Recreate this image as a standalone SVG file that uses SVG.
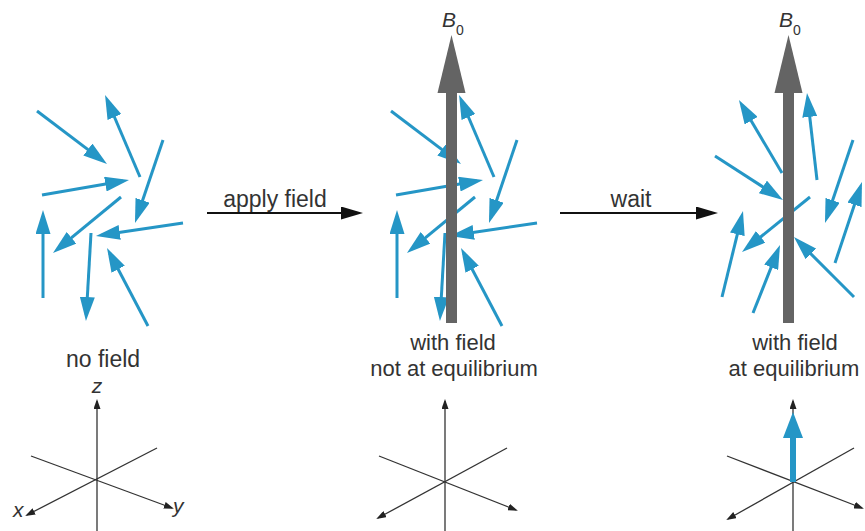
<svg xmlns="http://www.w3.org/2000/svg" width="865" height="531" viewBox="0 0 865 531">
<style>
.spin{stroke:#2596c6;stroke-width:3;fill:none;marker-end:url(#bh)}
.bar{fill:#646464}
.ax{stroke:#333;stroke-width:1.3;fill:none}
.axa{marker-end:url(#ah)}
.lbl{font-family:"Liberation Sans",Arial,sans-serif;font-size:23px;fill:#333;text-anchor:middle}
.lbl2{font-size:22px}
.ital{font-family:"Liberation Sans",Arial,sans-serif;font-style:italic;fill:#333}
.conn{stroke:#111;stroke-width:2;fill:none;marker-end:url(#ch)}
</style>
<defs>
<marker id="bh" viewBox="0 0 24 15" refX="18" refY="7.5" markerWidth="24" markerHeight="15" markerUnits="userSpaceOnUse" orient="auto"><path d="M0,0 L24,7.5 L0,15 z" fill="#2596c6"/></marker>
<marker id="ah" viewBox="0 0 10 7" refX="8" refY="3.5" markerWidth="10" markerHeight="7" markerUnits="userSpaceOnUse" orient="auto"><path d="M0,0 L10,3.5 L0,7 z" fill="#222"/></marker>
<marker id="ch" viewBox="0 0 22 13" refX="18" refY="6.5" markerWidth="22" markerHeight="13" markerUnits="userSpaceOnUse" orient="auto"><path d="M0,0 L22,6.5 L0,13 z" fill="#111"/></marker>
<g id="spins">
<line class="spin" x1="37" y1="111" x2="102.2" y2="160.4"/>
<line class="spin" x1="140" y1="177" x2="107.4" y2="100.5"/>
<line class="spin" x1="163" y1="140" x2="136.9" y2="217.3"/>
<line class="spin" x1="42" y1="195" x2="123.1" y2="181"/>
<line class="spin" x1="121" y1="197" x2="57.6" y2="249.2"/>
<line class="spin" x1="43" y1="298" x2="43" y2="216"/>
<line class="spin" x1="183" y1="223" x2="101.9" y2="235.1"/>
<line class="spin" x1="91" y1="233" x2="86.3" y2="315"/>
<line class="spin" x1="148" y1="326" x2="109.8" y2="253.3"/>
</g>
</defs>

<g id="state-no-field">
<use href="#spins"/>
<text class="lbl" x="103" y="367">no field</text>
<g id="axes-1">
<line class="ax axa" x1="97" y1="531" x2="97" y2="401"/>
<line class="ax axa" x1="31" y1="456" x2="172" y2="508"/>
<line class="ax axa" x1="157" y1="448" x2="27" y2="515"/>
<text class="ital" x="97" y="393" font-size="21" text-anchor="middle">z</text>
<text class="ital" x="13" y="517" font-size="21">x</text>
<text class="ital" x="173" y="513" font-size="21">y</text>
</g>
</g>

<g id="state-with-field">
<use href="#spins" transform="translate(354,0)"/>
<rect class="bar" x="446" y="92" width="11" height="231"/>
<polygon class="bar" points="437.5,93 465.5,93 451.5,35"/>
<text class="ital" x="442" y="27" font-size="21">B<tspan font-size="14" dy="8" font-style="normal">0</tspan></text>
<text class="lbl lbl2" x="453" y="350">with field</text>
<text class="lbl lbl2" x="454" y="376">not at equilibrium</text>
<g id="axes-2">
<line class="ax axa" x1="445" y1="531" x2="445" y2="401"/>
<line class="ax axa" x1="379" y1="456" x2="516" y2="510"/>
<line class="ax axa" x1="507" y1="448" x2="378" y2="518"/>
</g>
</g>

<g id="state-equilibrium">
<line class="spin" x1="782" y1="173" x2="742" y2="105.2"/>
<line class="spin" x1="817" y1="180" x2="807.7" y2="99"/>
<line class="spin" x1="715" y1="156" x2="778" y2="196.7"/>
<line class="spin" x1="853" y1="140" x2="826.9" y2="217.3"/>
<line class="spin" x1="835" y1="263" x2="860.1" y2="187.7"/>
<line class="spin" x1="810" y1="197" x2="746.7" y2="248.2"/>
<line class="spin" x1="722" y1="297" x2="741.6" y2="216.8"/>
<line class="spin" x1="753" y1="313" x2="777.8" y2="250.6"/>
<line class="spin" x1="854" y1="297" x2="798.2" y2="241.2"/>
<rect class="bar" x="783" y="92" width="11" height="231"/>
<polygon class="bar" points="774.5,93 802.5,93 788.5,35"/>
<text class="ital" x="779" y="27" font-size="21">B<tspan font-size="14" dy="8" font-style="normal">0</tspan></text>
<text class="lbl lbl2" x="795" y="350">with field</text>
<text class="lbl lbl2" x="794" y="376">at equilibrium</text>
<g id="axes-3">
<line class="ax axa" x1="793" y1="531" x2="793" y2="401"/>
<line class="ax axa" x1="727" y1="456" x2="862" y2="508"/>
<line class="ax axa" x1="854" y1="448" x2="728" y2="519"/>
<rect x="790" y="437" width="6" height="45" fill="#2596c6"/>
<polygon points="783,438 803,438 793,412" fill="#2596c6"/>
</g>
</g>

<g id="connectors">
<line class="conn" x1="207" y1="213" x2="359" y2="213"/>
<text class="lbl" x="275" y="207">apply field</text>
<line class="conn" x1="560" y1="213" x2="714" y2="213"/>
<text class="lbl" x="631" y="207">wait</text>
</g>
</svg>
